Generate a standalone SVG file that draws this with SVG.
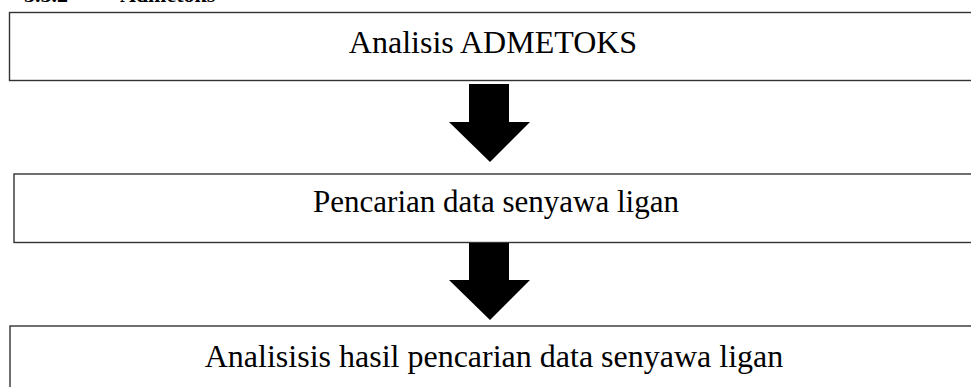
<svg xmlns="http://www.w3.org/2000/svg" width="971" height="387" viewBox="0 0 971 387">
<style>
.box{fill:#fff;stroke:#333;stroke-width:1.4}
.lbl{font-family:"Liberation Serif","Times New Roman",serif;font-size:31px;fill:#000}
.hd{font-family:"Liberation Serif","Times New Roman",serif;font-size:22px;font-weight:bold;fill:#000}
.arr{fill:#000}
</style>
<rect width="971" height="387" fill="#fff"/>
<text class="hd" x="24" y="2">3.5.2</text>
<text class="hd" x="120" y="2">Admetoks</text>
<g id="node1">
<rect class="box" x="9.5" y="12.5" width="975" height="68"/>
<text class="lbl" x="493" y="53" text-anchor="middle" style="font-size:32px">Analisis ADMETOKS</text>
</g>
<g id="node2">
<rect class="box" x="14" y="174" width="975" height="68.5"/>
<text class="lbl" x="496" y="212" text-anchor="middle">Pencarian data senyawa ligan</text>
</g>
<g id="node3">
<rect class="box" x="10" y="326" width="975" height="80"/>
<text class="lbl" x="494" y="367" text-anchor="middle" style="font-size:32px">Analisisis hasil pencarian data senyawa ligan</text>
</g>
<g id="connectors">
<polygon class="arr" points="469,84 509,84 509,122 530,122 490,162 449,122 469,122"/>
<polygon class="arr" points="469,243 509,243 509,280 530,280 490,320 449,280 469,280"/>
</g>
</svg>
